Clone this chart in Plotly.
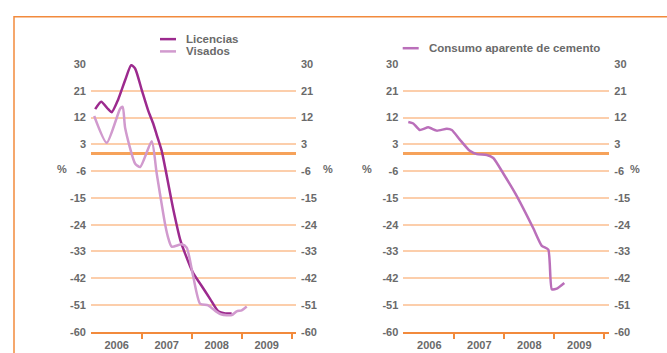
import plotly.graph_objects as go

# Year-on-year change (%), sampled along fractional years
lic_t = [2006.07, 2006.19, 2006.33, 2006.40, 2006.53, 2006.67, 2006.79, 2006.87,
         2007.00, 2007.13, 2007.23, 2007.30, 2007.40, 2007.63, 2007.77, 2007.87,
         2008.03, 2008.20, 2008.37, 2008.53, 2008.67, 2008.80]
lic_v = [14.8, 17.3, 14.8, 13.8, 18.1, 24.6, 29.6, 28.4,
         21.3, 14.3, 10.0, 6.2, 0.8, -18.7, -29.0, -33.8,
         -40.3, -44.6, -49.0, -53.1, -53.8, -53.8]

vis_t = [2006.05, 2006.30, 2006.57, 2006.62, 2006.67, 2006.87, 2006.97, 2007.20,
         2007.30, 2007.47, 2007.53, 2007.60, 2007.80, 2007.90, 2008.03, 2008.17,
         2008.33, 2008.50, 2008.60, 2008.80, 2008.90, 2009.00, 2009.10]
vis_v = [12.5, 3.5, 15.0, 15.6, 8.4, -3.5, -4.6, 4.0,
         -6.8, -24.0, -28.4, -31.4, -30.6, -31.7, -41.4, -50.6,
         -51.1, -53.3, -54.2, -54.4, -53.1, -52.8, -51.5]

cem_t = [2006.08, 2006.18, 2006.31, 2006.48, 2006.65, 2006.85, 2006.95, 2007.11,
         2007.31, 2007.45, 2007.65, 2007.78, 2007.98, 2008.25, 2008.58, 2008.75,
         2008.88, 2008.95, 2009.05, 2009.20]
cem_v = [10.5, 10.0, 7.8, 8.7, 7.6, 8.2, 7.8, 4.6,
         0.8, -0.3, -0.6, -1.6, -6.8, -14.4, -25.2, -31.1,
         -32.4, -45.7, -45.5, -43.6]

years = ["2006", "2007", "2008", "2009"]
year_mid = [2006.5, 2007.5, 2008.5, 2009.5]
year_edges = [2007, 2008, 2009, 2010]
y_ticks = list(range(-60, 31, 9))
y_labels = [str(v) for v in y_ticks]  # plain hyphen minus

ORANGE = "#f28a3c"
GRID = "#fcceab"
ZERO = "#f6a25a"
TXT = "#6a6a6a"
FONT = "Liberation Sans"

C_LIC = "#9c2a8e"
C_VIS = "#d19ace"
C_CEM = "#ba6fba"

W, H = 667, 353

fig = go.Figure()
fig.add_trace(go.Scatter(x=lic_t, y=lic_v, name="Licencias", mode="lines",
                         line=dict(color=C_LIC, width=2.5, shape="spline", smoothing=0.6),
                         xaxis="x", yaxis="y"))
fig.add_trace(go.Scatter(x=vis_t, y=vis_v, name="Visados", mode="lines",
                         line=dict(color=C_VIS, width=2.5, shape="spline", smoothing=0.6),
                         xaxis="x", yaxis="y"))
fig.add_trace(go.Scatter(x=cem_t, y=cem_v, name="Consumo aparente de cemento", mode="lines",
                         line=dict(color=C_CEM, width=2.5, shape="spline", smoothing=0.5),
                         xaxis="x2", yaxis="y2"))
# transparent copies so the right-hand scales are rendered
fig.add_trace(go.Scatter(x=lic_t, y=lic_v, mode="lines", line=dict(width=0),
                         opacity=0, hoverinfo="skip", xaxis="x", yaxis="y3"))
fig.add_trace(go.Scatter(x=cem_t, y=cem_v, mode="lines", line=dict(width=0),
                         opacity=0, hoverinfo="skip", xaxis="x2", yaxis="y4"))

tickfont = dict(family=FONT, size=11, color=TXT, weight="bold")
ydom = [1 - 337.3 / H, 1 - 60 / H]


def xaxis(dom, rng, anchor):
    return dict(domain=dom, range=rng, anchor=anchor,
                tickmode="array", tickvals=year_mid, ticktext=years, ticks="",
                showgrid=False, zeroline=False, showline=True, linecolor=ORANGE, linewidth=2,
                tickfont=tickfont, ticklabelstandoff=2,
                minor=dict(tickmode="array", tickvals=year_edges, ticks="outside",
                           ticklen=5, tickwidth=1.5, tickcolor=ORANGE, showgrid=False))


def yaxis(anchor, side="left", overlay=None, grid=True):
    d = dict(domain=ydom, range=[-60, 30], anchor=anchor, side=side,
             tickmode="array", tickvals=y_ticks, ticktext=y_labels, ticks="",
             tickfont=tickfont, ticklabelstandoff=4, showline=False,
             showgrid=grid, gridcolor=GRID, gridwidth=1.5,
             zeroline=grid, zerolinecolor=ZERO, zerolinewidth=2.5)
    if overlay:
        d["overlaying"] = overlay
    return d


fig.update_layout(
    width=W, height=H,
    margin=dict(l=0, r=0, t=0, b=0),
    paper_bgcolor="white", plot_bgcolor="white",
    showlegend=False,
    xaxis=xaxis([91 / W, 296 / W], [2005.986, 2010.086], "y"),
    yaxis=yaxis("x"),
    yaxis3=yaxis("x", side="right", overlay="y", grid=False),
    xaxis2=xaxis([403.3 / W, 609.3 / W], [2005.98, 2010.1], "y2"),
    yaxis2=yaxis("x2"),
    yaxis4=yaxis("x2", side="right", overlay="y2", grid=False),
)

# Legend keys: short swatch plus label
legend_items = [("Licencias", C_LIC, 160, 34.3),
                ("Visados", C_VIS, 160, 47.0),
                ("Consumo aparente de cemento", C_CEM, 402.7, 43.7)]
for label, color, x0, yk in legend_items:
    fig.add_shape(type="line", xref="paper", yref="paper",
                  x0=x0 / W, x1=(x0 + 16) / W, y0=1 - yk / H, y1=1 - yk / H,
                  line=dict(color=color, width=2.5))
    fig.add_annotation(x=(x0 + 24) / W, y=1 - yk / H, xref="paper", yref="paper",
                       xanchor="left", yanchor="middle", text=label, showarrow=False,
                       font=dict(family=FONT, size=11.5, color=TXT, weight="bold"))

# Percent markers beside each vertical axis
for px in (55, 328, 366.7, 641.7):
    fig.add_annotation(x=px / W, y=1 - 169 / H, xref="paper", yref="paper",
                       text="%", showarrow=False, font=tickfont)

# Outer frame
fig.add_shape(type="rect", xref="paper", yref="paper",
              x0=14 / W, y0=-0.05, x1=1.05, y1=1 - 11 / H,
              line=dict(color=ORANGE, width=1.5), layer="below")

fig.write_html("out.html")
